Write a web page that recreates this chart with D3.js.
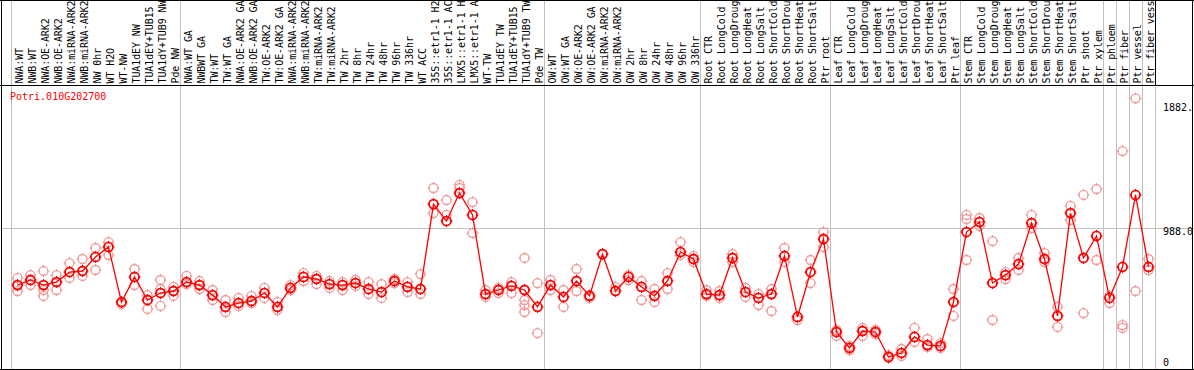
<!DOCTYPE html>
<html><head><meta charset="utf-8">
<script src="https://cdn.jsdelivr.net/npm/d3@7"></script>
<style>body{margin:0;background:#fff}svg{display:block}text{font-family:"DejaVu Sans Mono","Liberation Mono",monospace;font-size:10px}</style>
</head><body><svg id="c" width="1194" height="370"></svg>
<script>
const geneId = "Potri.010G202700";
const categories = ["NWA:WT","NWB:WT","NWA:OE-ARK2","NWB:OE-ARK2","NWA:miRNA-ARK2","NWB:miRNA-ARK2","NW 0hr","WT H2O","WT-NW","TUA1dEY NW","TUA1dEY+TUB15 NW","TUA1dY+TUB9 NW","Pde NW",
"NWA:WT GA","NWBWT GA","TW:WT","TW:WT GA","NWA:OE-ARK2 GA","NWB:OE-ARK2 GA","TW:OE-ARK2","TW:OE-ARK2 GA","NWA:miRNA-ARK2","NWB:miRNA-ARK2","TW:miRNA-ARK2","TW:miRNA-ARK2","TW 2hr","TW 8hr","TW 24hr","TW 48hr","TW 96hr","TW 336hr","WT ACC","35S::etr1-1 H2O","35S::etr1-1 ACC","LMX5::etr1-1 H2O","LMX5::etr1-1 ACC","WT-TW","TUA1dEY TW","TUA1dEY+TUB15 TW","TUA1dY+TUB9 TW","Pde TW",
"OW:WT","OW:WT GA","OW:OE-ARK2","OW:OE-ARK2 GA","OW:miRNA-ARK2","OW:miRNA-ARK2","OW 2hr","OW 8hr","OW 24hr","OW 48hr","OW 96hr","OW 336hr",
"Root CTR","Root LongCold","Root LongDrought","Root LongHeat","Root LongSalt","Root ShortCold","Root ShortDrought","Root ShortHeat","Root ShortSalt","Ptr root",
"Leaf CTR","Leaf LongCold","Leaf LongDrought","Leaf LongHeat","Leaf LongSalt","Leaf ShortCold","Leaf ShortDrought","Leaf ShortHeat","Leaf ShortSalt","Ptr leaf",
"Stem CTR","Stem LongCold","Stem LongDrought","Stem LongHeat","Stem LongSalt","Stem ShortCold","Stem ShortDrought","Stem ShortHeat","Stem ShortSalt","Ptr shoot","Ptr xylem",
"Ptr phloem","Ptr fiber","Ptr vessel","Ptr fiber vessel"];
const means = [593,628,593,614,683,690,787,856,476,649,490,538,552,
614,593,524,442,469,483,538,442,573,649,635,600,593,607,566,545,621,580,566,1152,1035,1228,1077,531,559,587,559,442,
593,511,621,518,807,552,649,580,518,621,821,773,
531,524,780,545,504,531,794,373,683,911,
269,159,276,269,97,124,235,179,173,476,
959,1028,607,662,738,1021,773,380,1090,780,932,
504,718,1215,718];
const replicates = [[642,552],[662,593],[690,559,518],[662,559],[745,642],[773,656],[849,697],[890,800],[462],[704,593],[524,428],[628,566,449],[580,518],
[656,600],[621,566],[559,490],[490,407],[504,449],[518,469],[573,504],[476,421],[593,559],[676,621],[656,600],[621,573],[614,559],[628,587],[614,531],[600,504],[635,607],[614,545],[669,531],[1263,1090],[1180,1077],[1284,1263],[1166,952],[559,511],[573,538],[614,538],[780,490,455,407],[607,262],
[628,559],[559,442],[704,552],[524,504],[807],[580],[662,628],[621,490],[566,476],[676,566],[890,800],[794,752],
[559,518],[552,504],[807,752],[573,511],[531,455],[566,414],[849,752],[352],[766,607],[959,856],
[283,242],[173,145],[297,242],[283,255],[110,90],[152,104],[297,200],[221,166],[193,159],[566,380],
[1077,1049,766],[1056,1001],[897,352],[683,635],[780,697],[1077,987],[814,752],[442,304],[1139,1042],[1215,400],[1256,766],
[518,469],[1518,317,297],[1882,552],[773,697]];
const axisTicks = [1882, 988, 0];
const axisTickLabels = ["1882.", "988.0", "0"];
const groupBreaks = [0,13,41,53,63,73,84,85,86,87,88];
const maxLabelChars = 14;

const svg = d3.select("#c");
const W = 1194, H = 370;
const x = d3.scaleBand().domain(d3.range(categories.length)).range([11, 1155]);
const y = d3.scaleLinear().domain([0, 1882]).range([371, 98.3]);
const cx = i => x(i) + x.bandwidth()/2;
const headerY = 85;

// gridlines
const grid = svg.append("g").attr("stroke", "#c0c0c0").attr("stroke-width", 1).attr("shape-rendering", "crispEdges");
groupBreaks.forEach(b => {
  const xx = 11 + b * x.bandwidth();
  grid.append("line").attr("x1", xx).attr("x2", xx).attr("y1", 0).attr("y2", H);
});
grid.append("line").attr("x1", 2).attr("x2", W).attr("y1", Math.round(y(988)) + 0.5).attr("y2", Math.round(y(988)) + 0.5);

// header labels (the header box shows at most 14 characters)
svg.append("g").selectAll("text").data(categories).join("text")
  .attr("transform", (d, i) => `translate(${cx(i) + 5.5},${headerY - 1.5}) rotate(-90)`)
  .attr("letter-spacing", "-0.1px")
  .attr("fill", "#000").text(d => d.slice(0, maxLabelChars));

// frame
const fr = svg.append("g").attr("stroke", "#000").attr("stroke-width", 1).attr("shape-rendering", "crispEdges").attr("fill", "none");
fr.append("line").attr("x1", 0).attr("x2", W).attr("y1", 0.5).attr("y2", 0.5);
fr.append("line").attr("x1", 0).attr("x2", W).attr("y1", headerY + 0.5).attr("y2", headerY + 0.5);
fr.append("line").attr("x1", 0).attr("x2", W).attr("y1", 369.5).attr("y2", 369.5);
fr.append("line").attr("x1", 1.5).attr("x2", 1.5).attr("y1", 0).attr("y2", H);
fr.append("line").attr("x1", 1192.5).attr("x2", 1192.5).attr("y1", 0).attr("y2", H);
fr.append("line").attr("x1", 1155.5).attr("x2", 1155.5).attr("y1", 0).attr("y2", headerY);

// title
svg.append("text").attr("x", 10).attr("y", 100).attr("fill", "#ff0000").text(geneId);

// axis labels
svg.append("g").selectAll("text").data(axisTicks).join("text")
  .attr("x", 1163)
  .attr("y", d => Math.min(Math.max(y(d) + 7.5, 110.5), 365.5))
  .attr("fill", "#000").text((d, i) => axisTickLabels[i]);

function marker(g, px, py, color, sw) {
  const m = g.append("g").attr("transform", `translate(${px},${py})`).attr("stroke", color).attr("fill", "none");
  m.append("circle").attr("r", 4.5).attr("stroke-width", sw);
  [[0,-1],[0,1],[-1,0],[1,0]].forEach(([a,b]) => {
    m.append("line").attr("x1", a*3.5).attr("y1", b*3.5).attr("x2", a*6).attr("y2", b*6).attr("stroke-width", 1);
  });
}

// replicates
const rg = svg.append("g");
replicates.forEach((arr, i) => arr.forEach(v => marker(rg, cx(i), y(v), "#f09a9a", 1.3)));

// mean line
svg.append("path").datum(means)
  .attr("d", d3.line().x((d, i) => cx(i)).y(d => y(d)))
  .attr("fill", "none").attr("stroke", "#ff0000").attr("stroke-width", 1.3);

// means
const mg = svg.append("g");
means.forEach((v, i) => marker(mg, cx(i), y(v), "#ff0000", 1.8));
</script></body></html>
